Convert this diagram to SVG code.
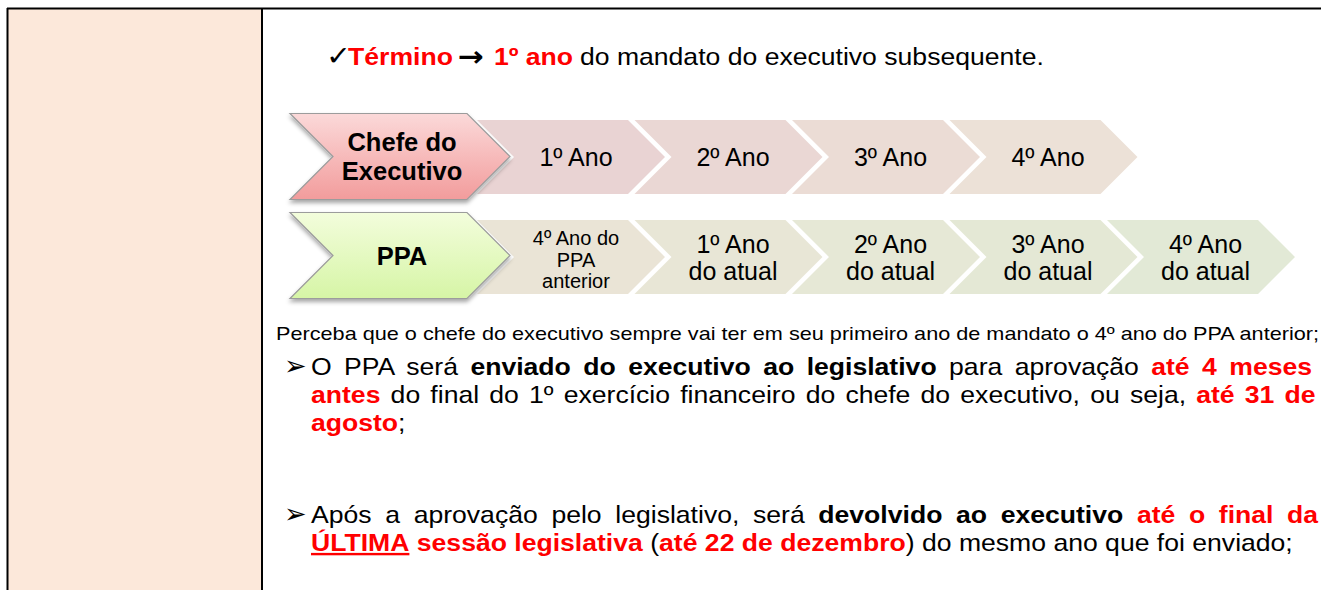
<svg xmlns="http://www.w3.org/2000/svg" width="1321" height="590" viewBox="0 0 1321 590">
<defs>
<linearGradient id="gPink" x1="0" y1="0" x2="0" y2="1"><stop offset="0" stop-color="#FBD9D9"/><stop offset="1" stop-color="#F29C9C"/></linearGradient>
<linearGradient id="gGreen" x1="0" y1="0" x2="0" y2="1"><stop offset="0" stop-color="#F3FDDC"/><stop offset="1" stop-color="#D6F5A6"/></linearGradient>
<filter id="sh" x="-10%" y="-10%" width="120%" height="130%"><feDropShadow dx="0" dy="3" stdDeviation="2" flood-color="#000" flood-opacity="0.35"/></filter>
<style>
.t{font-family:"Liberation Sans",Arial,sans-serif;fill:#000}
.b{font-weight:bold}
.r{fill:#FF0000}
.head{stroke:#9C9C9C;stroke-width:1.2}
.ct{font-family:"Liberation Sans",Arial,sans-serif;font-size:25px;fill:#000;text-anchor:middle}
.ct2{font-family:"Liberation Sans",Arial,sans-serif;font-size:20px;fill:#000;text-anchor:middle}
.hd{font-family:"Liberation Sans",Arial,sans-serif;font-size:25.5px;font-weight:bold;fill:#000;text-anchor:middle}
.sym{font-family:"DejaVu Sans",sans-serif}
</style>
</defs>
<rect x="0" y="0" width="1321" height="590" fill="#FFFFFF"/>
<g id="table">
<rect x="8" y="9" width="253" height="581" fill="#FCE8DA"/>
<line x1="7" y1="8.5" x2="1321" y2="8.5" stroke="#000" stroke-width="2"/>
<line x1="7.5" y1="8" x2="7.5" y2="590" stroke="#000" stroke-width="2"/>
<line x1="262" y1="8" x2="262" y2="590" stroke="#000" stroke-width="2"/>
</g>
<g id="line-termino">
<text class="t" font-size="24" transform="translate(327,65) scale(1.108,1)"><tspan class="sym" x="-1" font-size="27">✓</tspan><tspan x="19" class="b r">Término</tspan><tspan x="118" y="1" class="sym b" font-size="28">→</tspan><tspan x="150.7" y="0" class="b r">1º ano</tspan><tspan x="228.3">do mandato do executivo subsequente.</tspan></text>
</g>
<g id="row-chefe">
<g id="chefe-ano1"><polygon points="477,120 628,120 665,157 628,194 477,194 514,157" fill="#E9D3D3"/><text class="ct" x="576" y="166">1º Ano</text></g>
<g id="chefe-ano2"><polygon points="634.5,120 785.5,120 822.5,157 785.5,194 634.5,194 671.5,157" fill="#EAD7D4"/><text class="ct" x="733" y="166">2º Ano</text></g>
<g id="chefe-ano3"><polygon points="792,120 943,120 980,157 943,194 792,194 829,157" fill="#EBDCD5"/><text class="ct" x="890.5" y="166">3º Ano</text></g>
<g id="chefe-ano4"><polygon points="949.5,120 1100.5,120 1137.5,157 1100.5,194 949.5,194 986.5,157" fill="#ECE1D7"/><text class="ct" x="1048" y="166">4º Ano</text></g>
<g id="chefe-head"><polygon class="head" points="290,113.5 467,113.5 510,156.5 467,199.5 290,199.5 333,156.5" fill="url(#gPink)" filter="url(#sh)"/><text class="hd" x="402" y="151">Chefe do</text><text class="hd" x="402" y="180">Executivo</text></g>
</g>
<g id="row-ppa">
<g id="ppa-anterior"><polygon points="477,220 628,220 665,257 628,294 477,294 514,257" fill="#EAE4D6"/><text class="ct2" x="576" y="245">4º Ano do</text><text class="ct2" x="576" y="266.5">PPA</text><text class="ct2" x="576" y="288">anterior</text></g>
<g id="ppa-ano1"><polygon points="634.5,220 785.5,220 822.5,257 785.5,294 634.5,294 671.5,257" fill="#E8E6D6"/><text class="ct" x="733" y="253">1º Ano</text><text class="ct" x="733" y="280">do atual</text></g>
<g id="ppa-ano2"><polygon points="792,220 943,220 980,257 943,294 792,294 829,257" fill="#E6E8D6"/><text class="ct" x="890.5" y="253">2º Ano</text><text class="ct" x="890.5" y="280">do atual</text></g>
<g id="ppa-ano3"><polygon points="949.5,220 1100.5,220 1137.5,257 1100.5,294 949.5,294 986.5,257" fill="#E4E8D5"/><text class="ct" x="1048" y="253">3º Ano</text><text class="ct" x="1048" y="280">do atual</text></g>
<g id="ppa-ano4"><polygon points="1107,220 1258,220 1295,257 1258,294 1107,294 1144,257" fill="#E2E9D6"/><text class="ct" x="1205.5" y="253">4º Ano</text><text class="ct" x="1205.5" y="280">do atual</text></g>
<g id="ppa-head"><polygon class="head" points="290,212.5 467,212.5 510,255.5 467,298.5 290,298.5 333,255.5" fill="url(#gGreen)" filter="url(#sh)"/><text class="hd" x="402" y="265">PPA</text></g>
</g>
<g id="note">
<text class="t" x="276" y="340" font-size="19" textLength="1043" lengthAdjust="spacingAndGlyphs">Perceba que o chefe do executivo sempre vai ter em seu primeiro ano de mandato o 4º ano do PPA anterior;</text>
</g>
<g id="bullet-1">
<text class="t sym" x="284" y="375" font-size="27">➢</text>
<text class="t" font-size="24" word-spacing="4.56" transform="translate(311,375) scale(1.108,1)"><tspan>O PPA será </tspan><tspan class="b">enviado do executivo ao legislativo</tspan><tspan> para aprovação </tspan><tspan class="b r">até 4 meses</tspan></text>
<text class="t" font-size="24" word-spacing="2.53" transform="translate(311,403) scale(1.108,1)"><tspan class="b r">antes</tspan><tspan> do final do 1º exercício financeiro do chefe do executivo, ou seja, </tspan><tspan class="b r">até 31 de</tspan></text>
<text class="t" font-size="24" transform="translate(311,431) scale(1.108,1)"><tspan class="b r">agosto</tspan><tspan>;</tspan></text>
</g>
<g id="bullet-2">
<text class="t sym" x="284" y="523" font-size="27">➢</text>
<text class="t" font-size="24" word-spacing="5.65" transform="translate(311,523) scale(1.108,1)"><tspan>Após a aprovação pelo legislativo, será </tspan><tspan class="b">devolvido ao executivo</tspan><tspan> </tspan><tspan class="b r">até o final da</tspan></text>
<text class="t" font-size="24" transform="translate(311,551) scale(1.108,1)"><tspan class="b r" text-decoration="underline">ÚLTIMA</tspan><tspan class="b r"> sessão legislativa</tspan><tspan> (</tspan><tspan class="b r">até 22 de dezembro</tspan><tspan>) do mesmo ano que foi enviado;</tspan></text>
</g>
</svg>
